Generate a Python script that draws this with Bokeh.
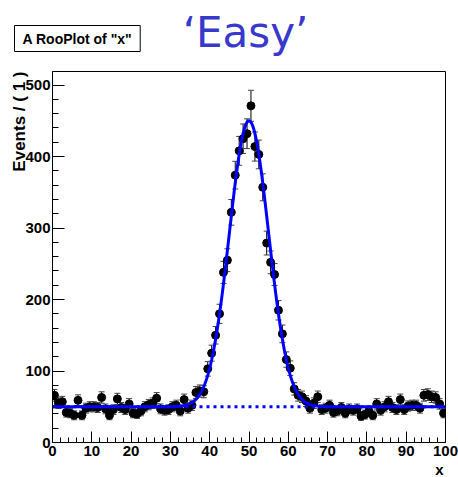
import numpy as np
from bokeh.plotting import figure
from bokeh.layouts import column
from bokeh.models import Range1d, Label, ColumnDataSource, FixedTicker, Title
from bokeh.embed import file_html
from bokeh.resources import INLINE

# ---------------- data ----------------
x_min, x_max = 0, 100
y_min, y_max = 0, 519
bin_centers = [i + 0.5 for i in range(100)]
counts = [66, 55, 57, 42, 41, 38, 59, 38, 48, 50,
          50, 49, 63, 47, 38, 46, 61, 49, 46, 54,
          41, 40, 44, 50, 53, 55, 62, 47, 45, 46,
          50, 52, 44, 60, 48, 52, 70, 72, 71, 103,
          125, 150, 180, 238, 255, 322, 374, 408, 425, 432,
          471, 414, 403, 357, 279, 252, 235, 185, 152, 116,
          104, 75, 66, 64, 58, 48, 55, 64, 46, 48,
          52, 42, 44, 49, 41, 47, 45, 47, 37, 39,
          44, 38, 54, 45, 50, 57, 49, 46, 60, 46,
          51, 52, 52, 48, 66, 67, 64, 63, 54, 41]
# fitted model parameters (Gaussian signal + flat background)
fit_mean = 50.0
fit_sigma = 5.0
fit_signal_height = 400.0
fit_background = 50.0

x_ticks = [0, 10, 20, 30, 40, 50, 60, 70, 80, 90, 100]
y_ticks = [0, 100, 200, 300, 400, 500]
title_text = 'A RooPlot of "x"'
big_title = "\u2018Easy\u2019"
y_label = "Events / ( 1 )"
x_label = "x"

FONT = "Liberation Sans"
W, H_HEAD, H_MAIN = 458, 70, 407

# ---------------- header (titles) ----------------
head = figure(width=W, height=H_HEAD, x_range=Range1d(0, W), y_range=Range1d(0, H_HEAD),
              output_backend="svg", toolbar_location=None, x_axis_location=None,
              y_axis_location=None, min_border=0, outline_line_color=None)
head.xgrid.visible = False
head.ygrid.visible = False

head.add_layout(Label(x=16, y=H_HEAD - 40, x_units="screen", y_units="screen",
                      text=title_text, text_font=FONT, text_font_style="bold",
                      text_font_size="14px", text_alpha=0.0, text_baseline="middle",
                      background_fill_color="black", padding=(8, 5)))
head.add_layout(Label(x=14, y=H_HEAD - 38, x_units="screen", y_units="screen",
                      text=title_text, text_font=FONT, text_font_style="bold",
                      text_font_size="14px", text_color="black", text_baseline="middle",
                      background_fill_color="white", border_line_color="black",
                      border_line_width=1, padding=(8, 5)))
head.add_layout(Label(x=245, y=H_HEAD - 32, x_units="screen", y_units="screen",
                      text=big_title, text_font="DejaVu Sans", text_font_size="42px",
                      text_color="#3838cc", text_align="center", text_baseline="alphabetic"))

# ---------------- main plot ----------------
p = figure(width=W, height=H_MAIN, x_range=Range1d(x_min, x_max),
           y_range=Range1d(y_min, y_max), output_backend="svg",
           toolbar_location=None, min_border_left=52, min_border_right=13,
           min_border_top=1, min_border_bottom=35)
p.xgrid.visible = False
p.ygrid.visible = False
p.outline_line_color = "black"
p.outline_line_width = 1

for fig in (head, p):
    if "frame_align" in fig.properties():
        fig.frame_align = False

for ax, ticks, minor_step, maj_len, min_len in (
        (p.xaxis[0], x_ticks, 2, 11, 5), (p.yaxis[0], y_ticks, 20, 12, 6)):
    lo, hi = ticks[0], ticks[-1]
    ax.ticker = FixedTicker(ticks=ticks,
                            minor_ticks=[float(v) for v in np.arange(lo, hi + minor_step, minor_step)])
    ax.major_tick_in = maj_len
    ax.major_tick_out = 0
    ax.minor_tick_in = min_len
    ax.minor_tick_out = 0
    ax.major_label_text_font = FONT
    ax.major_label_text_font_style = "bold"
    ax.major_label_text_font_size = "15px"
    ax.major_label_text_color = "black"
    ax.axis_line_color = "black"
    ax.major_tick_line_color = "black"
    ax.minor_tick_line_color = "black"
p.xaxis.major_label_standoff = 3
p.yaxis.major_label_standoff = 2

p.add_layout(Title(text=y_label, align="right", text_font=FONT, text_font_style="bold",
                   text_font_size="17px", text_color="black", standoff=-13, offset=0), "left")
p.add_layout(Title(text=x_label, align="right", text_font=FONT, text_font_style="bold",
                   text_font_size="15px", text_color="black", standoff=0, offset=2), "below")

# data points with sqrt(N) error bars
cnt = np.array(counts, dtype=float)
err = np.sqrt(cnt)
src = ColumnDataSource(dict(x=bin_centers, y=counts, lo=cnt - err, hi=cnt + err))
p.segment(x0="x", y0="lo", x1="x", y1="hi", source=src, line_color="black", line_width=1)
p.scatter(x="x", y="lo", source=src, marker="dash", size=6, line_color="#444444", line_width=1)
p.scatter(x="x", y="hi", source=src, marker="dash", size=6, line_color="#444444", line_width=1)
p.scatter(x="x", y="y", source=src, marker="circle", size=8, fill_color="black", line_color="black")

# background component (dotted) and full model
p.line([x_min, x_max], [fit_background, fit_background], line_color="#0000ff",
       line_width=3, line_dash="3 4")
xs = np.linspace(x_min, x_max, 1001)
ys = fit_background + fit_signal_height * np.exp(-0.5 * ((xs - fit_mean) / fit_sigma) ** 2)
p.line(xs, ys, line_color="#0000ff", line_width=3)

layout = column(head, p, spacing=0)
open("out.html", "w").write(file_html(layout, INLINE))
